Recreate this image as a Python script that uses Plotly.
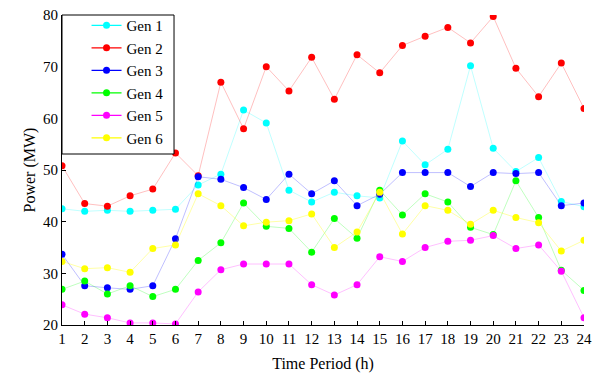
import plotly.graph_objects as go

periods = list(range(1, 25))
gen1 = [42.5, 42.0, 42.2, 42.0, 42.2, 42.4, 47.1, 49.2, 61.6, 59.1, 46.1, 43.8,
        45.7, 45.0, 44.6, 55.6, 51.0, 54.0, 70.2, 54.2, 49.7, 52.4, 43.9, 42.9]
gen2 = [50.8, 43.5, 43.0, 45.0, 46.3, 53.3, 48.9, 67.0, 58.0, 70.0, 65.3, 71.8,
        63.7, 72.3, 68.8, 74.1, 75.9, 77.6, 74.6, 79.7, 69.7, 64.2, 70.7, 61.9]
gen3 = [33.7, 27.6, 27.2, 26.9, 27.6, 36.7, 48.7, 48.2, 46.6, 44.3, 49.2, 45.4,
        47.9, 43.1, 45.3, 49.5, 49.5, 49.5, 46.8, 49.5, 49.3, 49.5, 43.1, 43.6]
gen4 = [26.9, 28.5, 26.0, 27.6, 25.5, 26.9, 32.5, 35.9, 43.6, 39.1, 38.7, 34.1,
        40.6, 36.8, 46.1, 41.3, 45.4, 43.8, 38.9, 37.5, 47.9, 40.8, 30.6, 26.7]
gen5 = [23.9, 22.1, 21.4, 20.4, 20.4, 20.2, 26.4, 30.7, 31.8, 31.8, 31.8, 27.8,
        25.8, 27.8, 33.2, 32.3, 35.0, 36.2, 36.4, 37.3, 34.8, 35.5, 30.4, 21.4]
gen6 = [32.3, 30.9, 31.1, 30.2, 34.8, 35.5, 45.4, 43.1, 39.2, 39.9, 40.2, 41.5,
        35.0, 38.0, 45.7, 37.6, 43.1, 42.2, 39.5, 42.2, 40.8, 39.8, 34.3, 36.4]

names = ["Gen 1", "Gen 2", "Gen 3", "Gen 4", "Gen 5", "Gen 6"]
series = [gen1, gen2, gen3, gen4, gen5, gen6]
colors = ["#00FFFF", "#FF0000", "#0000FF", "#00FF00", "#FF00FF", "#FFFF00"]
pale = ["rgba(0,255,255,0.25)", "rgba(255,0,0,0.25)", "rgba(0,0,255,0.25)",
        "rgba(0,255,0,0.25)", "rgba(255,0,255,0.25)", "rgba(255,255,0,0.35)"]

fig = go.Figure()
for n, s, c, p in zip(names, series, colors, pale):
    fig.add_trace(go.Scatter(x=periods, y=s, mode="lines+markers", name=n,
                             line=dict(color=p, width=1),
                             marker=dict(color=c, size=7),
                             showlegend=False, legendgroup=n))
for n, c in zip(names, colors):
    fig.add_trace(go.Scatter(x=[None], y=[None], mode="lines+markers", name=n,
                             line=dict(color=c, width=1.2),
                             marker=dict(color=c, size=7),
                             legendgroup=n))

font_family = "Liberation Serif, serif"
# page body has an 8px margin: figure is drawn 8px lower/right in the window
fig.update_layout(
    width=594, height=365,
    margin=dict(l=54, r=18, t=7, b=48, autoexpand=False),
    paper_bgcolor="white", plot_bgcolor="white",
    font=dict(family=font_family, size=15, color="black"),
    showlegend=True,
    legend=dict(x=0.047, y=1.019, xanchor="left", yanchor="top",
                bgcolor="rgba(0,0,0,0)", borderwidth=0,
                font=dict(family=font_family, size=15, color="black"),
                tracegroupgap=0, itemwidth=30),
    shapes=[dict(type="rect", xref="paper", yref="paper",
                 x0=0, x1=0.2146, y0=0.5516, y1=1,
                 fillcolor="white", line=dict(color="black", width=1),
                 layer="above")],
    xaxis=dict(range=[1, 24], tickmode="array", tickvals=periods,
               ticks="inside", ticklen=4, tickcolor="black",
               showline=True, linecolor="black", linewidth=1,
               showgrid=False, zeroline=False, automargin=False,
               ticklabeloverflow="allow",
               title=dict(text="Time Period (h)", standoff=11,
                          font=dict(family=font_family, size=16)),
               tickfont=dict(family=font_family, size=15)),
    yaxis=dict(range=[20, 80], tickvals=[20, 30, 40, 50, 60, 70, 80],
               ticks="inside", ticklen=4, tickcolor="black",
               showline=True, linecolor="black", linewidth=1,
               showgrid=False, zeroline=False, automargin=False,
               ticklabeloverflow="allow",
               title=dict(text="Power (MW)", standoff=3,
                          font=dict(family=font_family, size=16)),
               tickfont=dict(family=font_family, size=15)),
)

fig.write_html("out.html")
